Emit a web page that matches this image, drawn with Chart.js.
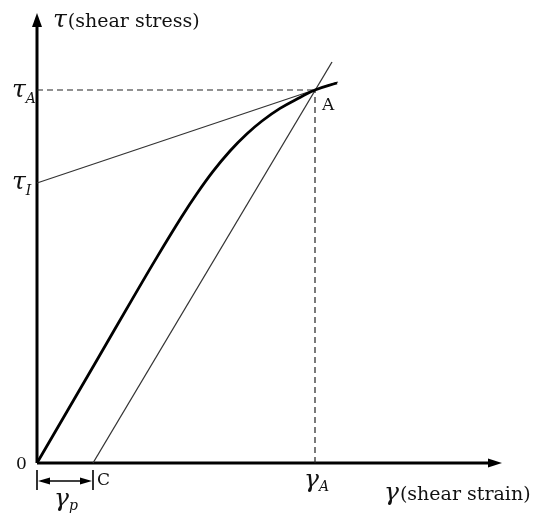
<!DOCTYPE html>
<html>
<head>
<meta charset="utf-8">
<script src="https://cdn.jsdelivr.net/npm/chart.js@4"></script>
<style>
html,body{margin:0;padding:0;background:#fff;}
#wrap{width:533px;height:513px;}
</style>
</head>
<body>
<div id="wrap"><canvas id="c" width="533" height="513"></canvas></div>
<script>
// Data (units: strain along x, stress along y; origin at 0,0)
const curveX = [0, 60, 95, 120, 145, 160, 176, 193, 210, 225, 243, 263, 278, 300];
const curveY = [0, 103, 163.4, 205.9, 246.7, 269.5, 291.6, 312, 329.2, 342, 354.6, 365.6, 373, 380];
const tangentX = [0, 301];
const tangentY = [280, 381];
const unloadX = [56, 295];
const unloadY = [0, 401];
const pointA = [278, 373];
const tauI = 280;
const gammaP = 56;
const axisXEnd = 465;
const axisYEnd = 450;

const pts = (xs, ys) => xs.map((x,i)=>({x, y:ys[i]}));

const datasets = [
  {data: pts(curveX, curveY), borderColor:'#000', borderWidth:2.8, tension:0.4, cubicInterpolationMode:'default'},
  {data: pts(tangentX, tangentY), borderColor:'#333', borderWidth:1.3},
  {data: pts(unloadX, unloadY), borderColor:'#333', borderWidth:1.3},
  {data: [{x:0,y:pointA[1]},{x:pointA[0],y:pointA[1]}], borderColor:'#222', borderWidth:1.2, borderDash:[6,4]},
  {data: [{x:pointA[0],y:0},{x:pointA[0],y:pointA[1]}], borderColor:'#222', borderWidth:1.2, borderDash:[6,4]},
  {data: [{x:0,y:0},{x:0,y:axisYEnd-12}], borderColor:'#000', borderWidth:3},
  {data: [{x:0,y:0},{x:axisXEnd-12,y:0}], borderColor:'#000', borderWidth:3},
  // gamma_p dimension
  {data: [{x:0,y:-7},{x:0,y:-27}], borderColor:'#000', borderWidth:1.6},
  {data: [{x:gammaP,y:-7},{x:gammaP,y:-27}], borderColor:'#000', borderWidth:1.6},
  {data: [{x:4,y:-18},{x:gammaP-4,y:-18}], borderColor:'#000', borderWidth:1.4},
].map(d=>Object.assign({pointRadius:0, fill:false, tension:0}, d));

function tri(ctx, tx, ty, dir, len, hw){
  ctx.beginPath();
  if(dir==='up'){ctx.moveTo(tx,ty);ctx.lineTo(tx-hw,ty+len);ctx.lineTo(tx+hw,ty+len);}
  if(dir==='right'){ctx.moveTo(tx,ty);ctx.lineTo(tx-len,ty-hw);ctx.lineTo(tx-len,ty+hw);}
  if(dir==='left'){ctx.moveTo(tx,ty);ctx.lineTo(tx+len,ty-hw);ctx.lineTo(tx+len,ty+hw);}
  ctx.closePath();ctx.fill();
}

function sub(ctx, main, subs, x, y, mainFont, subFont, dy){
  ctx.font = mainFont; ctx.fillText(main, x, y);
  const w = ctx.measureText(main).width;
  ctx.font = subFont; ctx.fillText(subs, x + w, y + dy);
}

const annot = {
  id:'annot',
  afterDatasetsDraw(chart){
    const {ctx, scales:{x, y}} = chart;
    ctx.save();
    ctx.fillStyle = '#000';
    // axis arrow heads
    tri(ctx, x.getPixelForValue(0), y.getPixelForValue(axisYEnd), 'up', 14, 5);
    tri(ctx, x.getPixelForValue(axisXEnd), y.getPixelForValue(0), 'right', 14, 4.5);
    // gamma_p arrowheads
    tri(ctx, x.getPixelForValue(0)+1, y.getPixelForValue(-18), 'left', 12, 3.5);
    tri(ctx, x.getPixelForValue(gammaP)-1, y.getPixelForValue(-18), 'right', 12, 3.5);

    ctx.fillStyle = '#111';
    ctx.textBaseline = 'alphabetic';
    const it = 'italic 25px "DejaVu Serif"';
    const itSub = 'italic 14px "DejaVu Serif"';
    const rm = '19px "DejaVu Serif"';
    // axis titles
    ctx.font = it; ctx.fillText('τ', 53, 27);
    let w = ctx.measureText('τ').width;
    ctx.font = rm; ctx.fillText('(shear stress)', 53 + w + 1, 27);
    ctx.font = it; ctx.fillText('γ', 384, 500);
    w = ctx.measureText('γ').width;
    ctx.font = rm; ctx.fillText('(shear strain)', 384 + w + 1, 500);
    // tau labels
    sub(ctx, 'τ', 'A', 12, y.getPixelForValue(pointA[1]) + 7, it, itSub, 6);
    sub(ctx, 'τ', 'I', 12, y.getPixelForValue(tauI) + 6, it, itSub, 6);
    // gamma labels
    sub(ctx, 'γ', 'A', x.getPixelForValue(pointA[0]) - 11, y.getPixelForValue(0) + 24, it, itSub, 4);
    sub(ctx, 'γ', 'p', 54, 506, it, itSub, 4);
    // plain labels
    ctx.font = '17px "DejaVu Serif"';
    ctx.fillText('0', 16, y.getPixelForValue(0) + 6);
    ctx.fillText('C', x.getPixelForValue(gammaP) + 4, y.getPixelForValue(0) + 22);
    ctx.fillText('A', x.getPixelForValue(pointA[0]) + 7, y.getPixelForValue(pointA[1]) + 20);
    ctx.restore();
  }
};

new Chart(document.getElementById('c'), {
  type:'line',
  data:{datasets},
  options:{
    responsive:false, animation:false,
    layout:{padding:0},
    plugins:{legend:{display:false}, tooltip:{enabled:false}},
    scales:{
      x:{type:'linear', min:-37, max:496, display:false},
      y:{type:'linear', min:-50, max:463, display:false}
    },
    elements:{line:{borderCapStyle:'butt'}}
  },
  plugins:[annot]
});
</script>
</body>
</html>
